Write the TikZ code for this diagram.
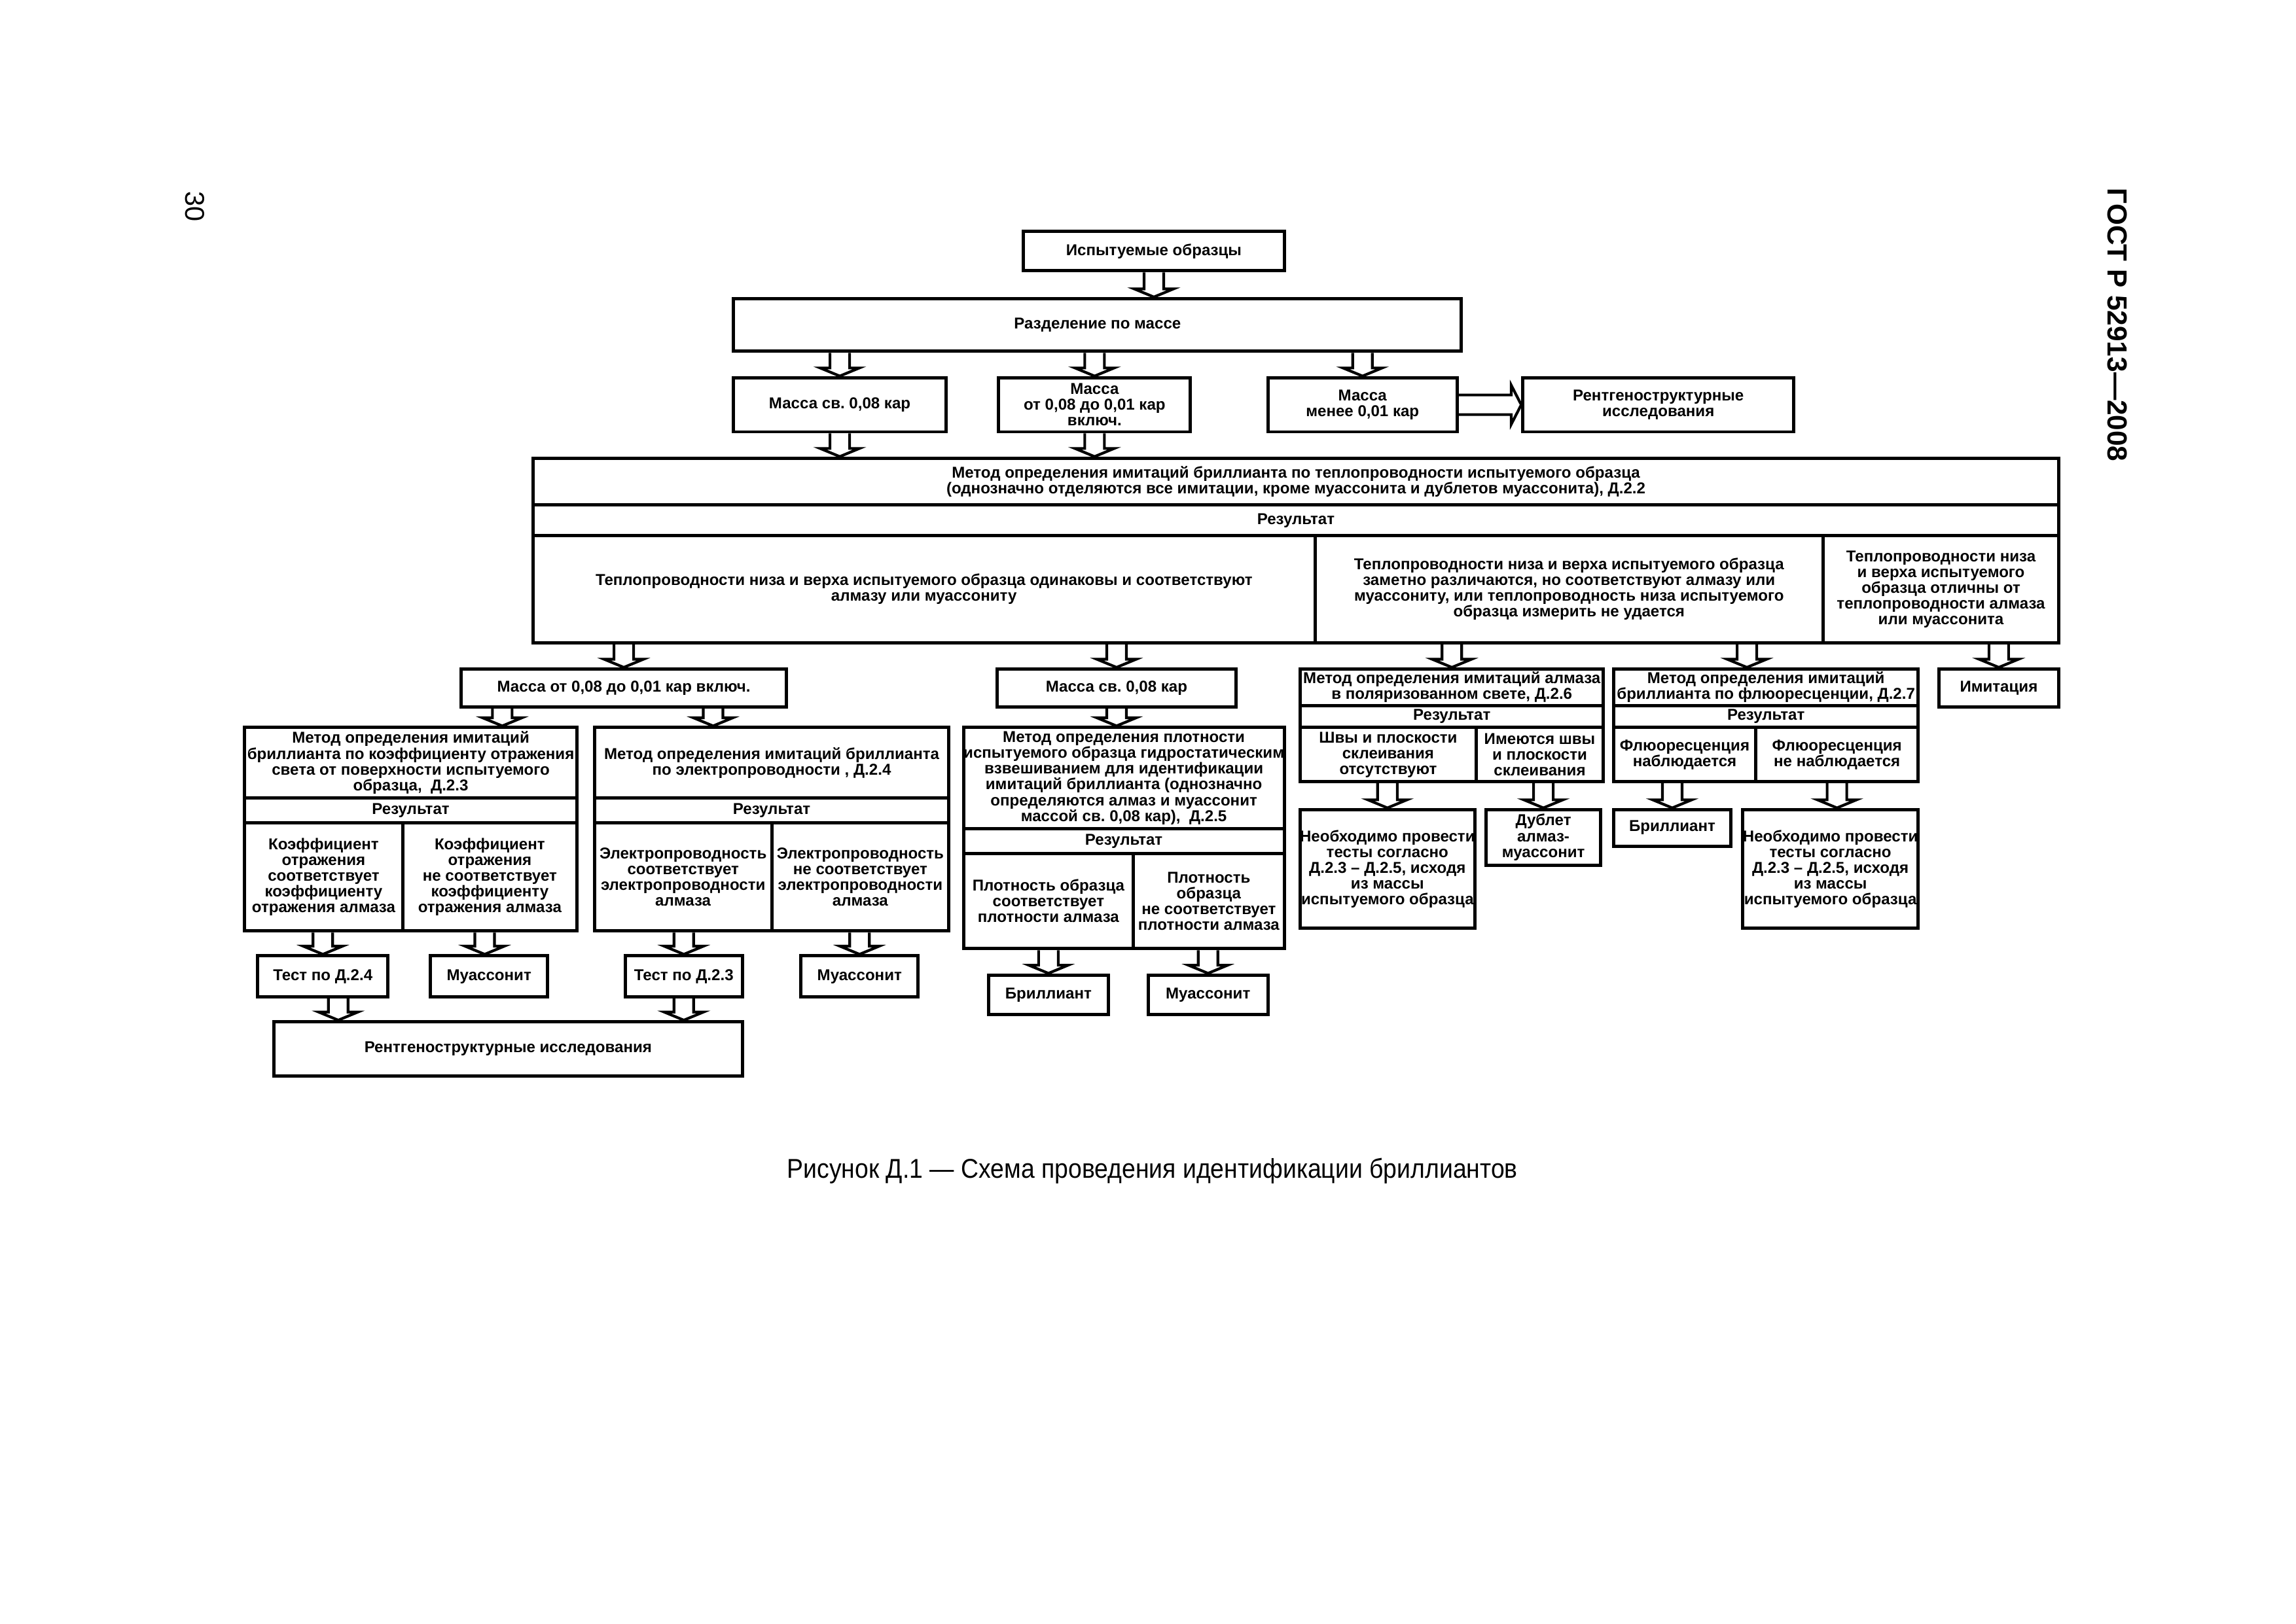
\documentclass[tikz,border=0pt]{standalone}
\usepackage{fontspec}
\setmainfont{Liberation Sans}
\newfontfamily\captionfont{Liberation Sans}[FakeStretch=0.9]
\usetikzlibrary{calc}
\frenchspacing
\tikzset{
  cellbox/.style={draw,line width=1.2pt,inner sep=0pt,align=center,
    font=\fontsize{5.8}{5.8}\selectfont\bfseries},
  pagetext/.style={font=\fontsize{10}{12}\selectfont},
  blockdown/.style={line width=1pt,to path={let \p1=(\tikztostart),\p2=(\tikztotarget) in
    (\x1-1.27mm,\y1) -- (\x1-1.27mm,\y2+1.05mm) -- (\x1-2.54mm,\y2+1.05mm) -- (\x1,\y2)
    -- (\x1+2.54mm,\y2+1.05mm) -- (\x1+1.27mm,\y2+1.05mm) -- (\x1+1.27mm,\y1)}},
  blockright/.style={line width=1pt,to path={let \p1=(\tikztostart),\p2=(\tikztotarget) in
    (\x1,\y1+1.27mm) -- (\x2-1.3mm,\y1+1.27mm) -- (\x2-1.3mm,\y1+2.54mm) -- (\x2,\y1)
    -- (\x2-1.3mm,\y1-2.54mm) -- (\x2-1.3mm,\y1-1.27mm) -- (\x1,\y1-1.27mm)}}
}
\newcommand{\boxcell}[6]{\node[cellbox,minimum width={(#4-#2)*0.1894mm},
  minimum height={(#5-#3)*0.1894mm}] (#1) at ({(#2+#4)/2},{(#3+#5)/2}) {#6};}
\begin{document}
\begin{tikzpicture}[x=0.1894mm,y=-0.1894mm]
  \useasboundingbox (0,0) rectangle (1568,1109);
  \node[pagetext,rotate=-90] (pnum) at (133,141) {30};
  \node[font=\fontsize{10.2}{12}\selectfont\bfseries,rotate=-90] (gost) at (1446,222) {ГОСТ Р 52913—2008};

  \boxcell{obr}{699}{158}{877}{185}{Испытуемые образцы}
  \boxcell{razd}{501}{204}{998}{240}{Разделение по массе}
  \boxcell{msv}{501}{258}{646}{295}{Масса св. 0,08 кар}
  \boxcell{mot}{682}{258}{813}{295}{Масса\\от 0,08 до 0,01 кар\\включ.}
  \boxcell{mmen}{866}{258}{995}{295}{Масса\\менее 0,01 кар}
  \boxcell{rent}{1040}{258}{1225}{295}{Рентгеноструктурные\\исследования}

  \boxcell{tep}{364}{313}{1406}{345}{Метод определения имитаций бриллианта по теплопроводности испытуемого образца\\(однозначно отделяются все имитации, кроме муассонита и дублетов муассонита), Д.2.2}
  \boxcell{tepres}{364}{345}{1406}{366}{Результат}
  \boxcell{tepa}{364}{366}{898}{439}{Теплопроводности низа и верха испытуемого образца одинаковы и соответствуют\\алмазу или муассониту}
  \boxcell{tepb}{898}{366}{1245}{439}{Теплопроводности низа и верха испытуемого образца\\заметно различаются, но соответствуют алмазу или\\муассониту, или теплопроводность низа испытуемого\\образца измерить не удается}
  \boxcell{tepc}{1245}{366}{1406}{439}{Теплопроводности низа\\и верха испытуемого\\образца отличны от\\теплопроводности алмаза\\или муассонита}

  \boxcell{mot2}{315}{457}{537}{483}{Масса от 0,08 до 0,01 кар включ.}
  \boxcell{msv2}{681}{457}{844}{483}{Масса св. 0,08 кар}
  \boxcell{pol}{888}{457}{1095}{482}{Метод определения имитаций алмаза\\в поляризованном свете, Д.2.6}
  \boxcell{polres}{888}{482}{1095}{497}{Результат}
  \boxcell{pola}{888}{497}{1008}{534}{Швы и плоскости\\склеивания\\отсутствуют}
  \boxcell{polb}{1008}{497}{1095}{534}{Имеются швы\\и плоскости\\склеивания}
  \boxcell{flu}{1102}{457}{1310}{482}{Метод определения имитаций\\бриллианта по флюоресценции, Д.2.7}
  \boxcell{flures}{1102}{482}{1310}{497}{Результат}
  \boxcell{flua}{1102}{497}{1199}{534}{Флюоресценция\\наблюдается}
  \boxcell{flub}{1199}{497}{1310}{534}{Флюоресценция\\не наблюдается}
  \boxcell{imit}{1324}{457}{1406}{483}{Имитация}

  \boxcell{refl}{167}{497}{394}{545}{Метод определения имитаций\\бриллианта по коэффициенту отражения\\света от поверхности испытуемого\\образца,~~Д.2.3}
  \boxcell{reflres}{167}{545}{394}{562}{Результат}
  \boxcell{refla}{167}{562}{275}{636}{Коэффициент\\отражения\\соответствует\\коэффициенту\\отражения алмаза}
  \boxcell{reflb}{275}{562}{394}{636}{Коэффициент\\отражения\\не соответствует\\коэффициенту\\отражения алмаза}
  \boxcell{el}{406}{497}{648}{545}{Метод определения имитаций бриллианта\\по электропроводности , Д.2.4}
  \boxcell{elres}{406}{545}{648}{562}{Результат}
  \boxcell{ela}{406}{562}{527}{636}{Электропроводность\\соответствует\\электропроводности\\алмаза}
  \boxcell{elb}{527}{562}{648}{636}{Электропроводность\\не соответствует\\электропроводности\\алмаза}
  \boxcell{dens}{658}{497}{877}{566}{Метод определения плотности\\испытуемого образца гидростатическим\\взвешиванием для идентификации\\имитаций бриллианта (однозначно\\определяются алмаз и муассонит\\массой св. 0,08 кар),~~Д.2.5}
  \boxcell{densres}{658}{566}{877}{583}{Результат}
  \boxcell{densa}{658}{583}{774}{648}{Плотность образца\\соответствует\\плотности алмаза}
  \boxcell{densb}{774}{583}{877}{648}{Плотность\\образца\\не соответствует\\плотности алмаза}

  \boxcell{test4}{176}{653}{265}{681}{Тест по Д.2.4}
  \boxcell{mua1}{294}{653}{374}{681}{Муассонит}
  \boxcell{test3}{427}{653}{507}{681}{Тест по Д.2.3}
  \boxcell{mua2}{547}{653}{627}{681}{Муассонит}
  \boxcell{rent2}{187}{698}{507}{735}{Рентгеноструктурные исследования}
  \boxcell{bril1}{675}{666}{757}{693}{Бриллиант}
  \boxcell{mua3}{784}{666}{866}{693}{Муассонит}
  \boxcell{neob1}{888}{553}{1007}{634}{Необходимо провести\\тесты согласно\\Д.2.3 – Д.2.5, исходя\\из массы\\испытуемого образца}
  \boxcell{dub}{1015}{553}{1093}{591}{Дублет\\алмаз-\\муассонит}
  \boxcell{bril2}{1102}{553}{1182}{578}{Бриллиант}
  \boxcell{neob2}{1190}{553}{1310}{634}{Необходимо провести\\тесты согласно\\Д.2.3 – Д.2.5, исходя\\из массы\\испытуемого образца}

  \node[font=\captionfont\fontsize{10}{12}\selectfont] (cap) at (787,800) {Рисунок Д.1 — Схема проведения идентификации бриллиантов};

  \coordinate (xflu) at (1193,0);
  \coordinate (xrefl) at (343,0);
  \coordinate (xel) at (487,0);
  \coordinate (xmua) at (331,0);
  \coordinate (xrent) at (231,0);
  \coordinate (xneob) at (1254.5,0);

  \draw[blockdown] (obr.south) to (razd.north);
  \draw[blockdown] (razd.south -| msv.north) to (msv.north);
  \draw[blockdown] (razd.south -| mot.north) to (mot.north);
  \draw[blockdown] (razd.south -| mmen.north) to (mmen.north);
  \draw[blockright] (mmen.east) to (rent.west);
  \draw[blockdown] (msv.south) to (tep.north);
  \draw[blockdown] (mot.south) to (tep.north);
  \draw[blockdown] (tepa.south -| mot2.north) to (mot2.north);
  \draw[blockdown] (tepa.south -| msv2.north) to (msv2.north);
  \draw[blockdown] (tepb.south -| pol.north) to (pol.north);
  \draw[blockdown] (tepb.south -| xflu) to (flu.north);
  \draw[blockdown] (tepc.south -| imit.north) to (imit.north);
  \draw[blockdown] (mot2.south -| xrefl) to (refl.north);
  \draw[blockdown] (mot2.south -| xel) to (el.north);
  \draw[blockdown] (msv2.south) to (dens.north);
  \draw[blockdown] (refla.south -| test4.north) to (test4.north);
  \draw[blockdown] (reflb.south -| xmua) to (mua1.north);
  \draw[blockdown] (ela.south -| test3.north) to (test3.north);
  \draw[blockdown] (elb.south -| mua2.north) to (mua2.north);
  \draw[blockdown] (test4.south -| xrent) to (rent2.north);
  \draw[blockdown] (test3.south) to (rent2.north);
  \draw[blockdown] (densa.south -| bril1.north) to (bril1.north);
  \draw[blockdown] (densb.south -| mua3.north) to (mua3.north);
  \draw[blockdown] (pola.south -| neob1.north) to (neob1.north);
  \draw[blockdown] (polb.south -| dub.north) to (dub.north);
  \draw[blockdown] (flua.south -| bril2.north) to (bril2.north);
  \draw[blockdown] (flub.south -| xneob) to (neob2.north);
\end{tikzpicture}
\end{document}
